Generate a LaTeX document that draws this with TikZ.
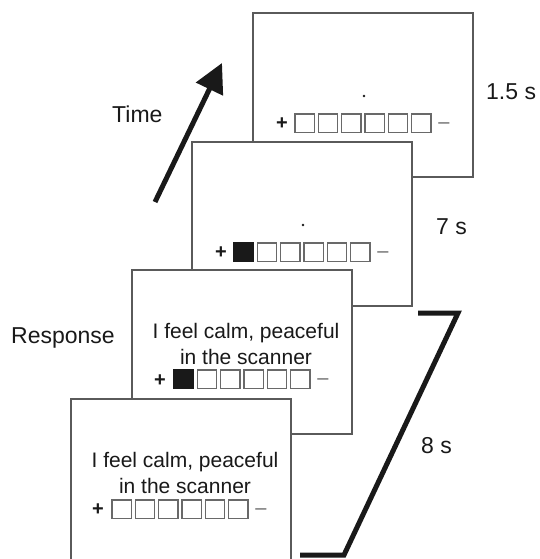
\documentclass[tikz,border=0pt]{standalone}
\usepackage{fontspec}
\setmainfont{Liberation Sans}
\usetikzlibrary{arrows.meta}
\definecolor{frameC}{RGB}{90,90,90}
\definecolor{boxC}{RGB}{105,105,105}
\definecolor{inkC}{RGB}{25,25,25}
\tikzset{
  frame/.style={draw=frameC, line width=1.5pt, fill=white, minimum width=220pt, minimum height=164pt, inner sep=0pt, outer sep=0pt, anchor=north west},
  ratebox/.style={draw=boxC, line width=1.3pt},
  ratefill/.style={draw=inkC, fill=inkC, line width=1.3pt},
  lbl/.style={font=\fontsize{23}{27}\selectfont, text=inkC, inner sep=0pt, anchor=base west},
  stim/.style={font=\fontsize{21}{25}\selectfont, text=inkC, inner sep=0pt, anchor=base},
  plus/.style={font=\bfseries\fontsize{20}{20}\selectfont, text=inkC, inner sep=0pt, anchor=base},
  minus/.style={font=\fontsize{20}{20}\selectfont, text=boxC, inner sep=0pt, anchor=base},
  thickblk/.style={line width=5pt, draw=inkC}
}
\begin{document}
\begin{tikzpicture}[x=1pt, y=-1pt]
\useasboundingbox (0,0) rectangle (540,559);
% frame 1
\node[frame] (f1) at (253,13) {};
\begin{scope}[shift={(f1.north west)}]
  \fill[inkC] (111,83) circle (1.3);
  \node[plus] (p1) at (29,116.5) {+};
  \foreach \i in {0,...,5} \draw[ratebox] (42+\i*23.3,101) rectangle ++(19.5,18.5);
  \node[minus] (m1) at (191,115.5) {–};
\end{scope}
% frame 2
\node[frame] (f2) at (192,142) {};
\begin{scope}[shift={(f2.north west)}]
  \fill[inkC] (111,83) circle (1.3);
  \node[plus] (p2) at (29,116.5) {+};
  \draw[ratefill] (42,101) rectangle ++(19.5,18.5);
  \foreach \i in {1,...,5} \draw[ratebox] (42+\i*23.3,101) rectangle ++(19.5,18.5);
  \node[minus] (m2) at (191,115.5) {–};
\end{scope}
% frame 3
\node[frame] (f3) at (132,270) {};
\begin{scope}[shift={(f3.north west)}]
  \node[stim] (s3a) at (114,68.5) {I feel calm, peaceful};
  \node[stim] (s3b) at (114,94.5) {in the scanner};
  \node[plus] (p3) at (28,116.5) {+};
  \draw[ratefill] (42,100) rectangle ++(19.5,18.5);
  \foreach \i in {1,...,5} \draw[ratebox] (42+\i*23.3,100) rectangle ++(19.5,18.5);
  \node[minus] (m3) at (191,114.5) {–};
\end{scope}
% frame 4
\node[frame] (f4) at (71,399) {};
\begin{scope}[shift={(f4.north west)}]
  \node[stim] (s4a) at (114,68) {I feel calm, peaceful};
  \node[stim] (s4b) at (114,94) {in the scanner};
  \node[plus] (p4) at (27,116.5) {+};
  \foreach \i in {0,...,5} \draw[ratebox] (41+\i*23.3,101) rectangle ++(19.5,18.5);
  \node[minus] (m4) at (190,115.5) {–};
\end{scope}
% labels
\node[lbl] (t15) at (486,100) {1.5 s};
\node[lbl] (t7) at (436,234) {7 s};
\node[lbl] (t8) at (421,453) {8 s};
\node[lbl] (time) at (112,122) {Time};
\node[lbl] (resp) at (11,343) {Response};
% time arrow
\coordinate (ta) at (155,202);
\coordinate (tb) at (222,63);
\draw[thickblk, -{Triangle[length=29pt,width=29pt]}] (ta) -- (tb);
% bracket
\coordinate (b1) at (418,313);
\coordinate (b2) at (458,313);
\coordinate (b3) at (344,555);
\coordinate (b4) at (300,555);
\draw[thickblk, line join=miter] (b1) -- (b2) -- (b3) -- (b4);
\end{tikzpicture}
\end{document}
